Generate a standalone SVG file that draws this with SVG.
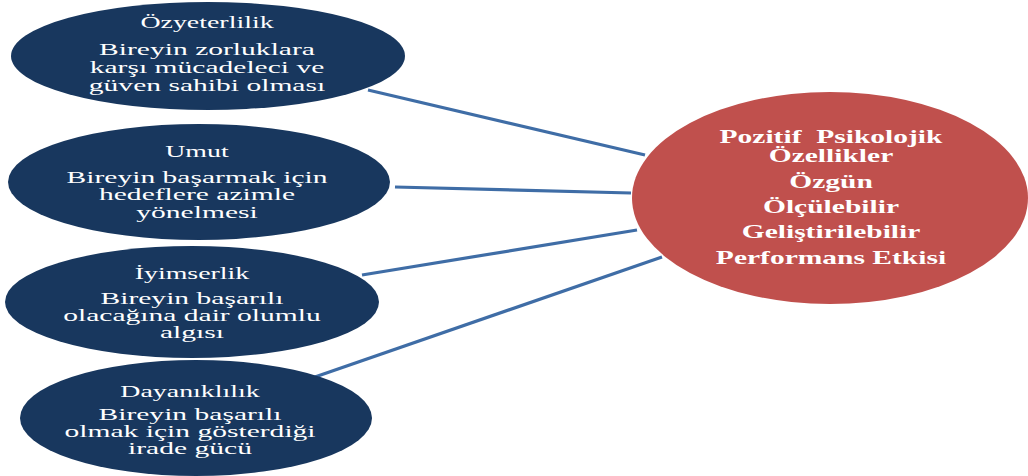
<svg xmlns="http://www.w3.org/2000/svg" width="1028" height="476" viewBox="0 0 1028 476">
  <style>
    .blue { fill: #18375E; }
    .red { fill: #C0504D; }
    .conn { stroke: #3F6DA6; stroke-width: 3.2; fill: none; }
    text { fill: #FFFFFF; font-family: "Liberation Serif", "DejaVu Serif", serif; text-anchor: middle; }
    .t { font-size: 16.5px; }
    .b { font-size: 17.5px; }
    .h { font-size: 18px; font-weight: bold; }
  </style>
  <rect width="1028" height="476" fill="#FFFFFF"/>
  <g id="connectors">
    <line class="conn" x1="368" y1="90" x2="645" y2="155"/>
    <line class="conn" x1="395" y1="187" x2="631" y2="193"/>
    <line class="conn" x1="362" y1="275" x2="637" y2="230"/>
    <line class="conn" x1="312" y1="378" x2="662" y2="257"/>
  </g>
  <g id="node-ozyeterlilik">
    <ellipse class="blue" cx="208" cy="56" rx="197" ry="54"/>
    <g transform="translate(207,0) scale(1.69,1)">
      <text class="t" x="0" y="28">Özyeterlilik</text>
      <text class="b" x="0" y="55">Bireyin zorluklara</text>
      <text class="b" x="0" y="73">karşı mücadeleci ve</text>
      <text class="b" x="0" y="91">güven sahibi olması</text>
    </g>
  </g>
  <g id="node-umut">
    <ellipse class="blue" cx="199" cy="182" rx="191" ry="58"/>
    <g transform="translate(197,0) scale(1.69,1)">
      <text class="t" x="0" y="157">Umut</text>
      <text class="b" x="0" y="183">Bireyin başarmak için</text>
      <text class="b" x="0" y="200.5">hedeflere azimle</text>
      <text class="b" x="0" y="218">yönelmesi</text>
    </g>
  </g>
  <g id="node-iyimserlik">
    <ellipse class="blue" cx="192" cy="302" rx="187" ry="56"/>
    <g transform="translate(192,0) scale(1.69,1)">
      <text class="t" x="0" y="279">İyimserlik</text>
      <text class="b" x="0" y="304.5">Bireyin başarılı</text>
      <text class="b" x="0" y="321.5">olacağına dair olumlu</text>
      <text class="b" x="0" y="338.5">algısı</text>
    </g>
  </g>
  <g id="node-dayaniklilik">
    <ellipse class="blue" cx="196" cy="418" rx="176" ry="58"/>
    <g transform="translate(190,0) scale(1.69,1)">
      <text class="t" x="0" y="397">Dayanıklılık</text>
      <text class="b" x="0" y="420.5">Bireyin başarılı</text>
      <text class="b" x="0" y="437.5">olmak için gösterdiği</text>
      <text class="b" x="0" y="454.5">irade gücü</text>
    </g>
  </g>
  <g id="node-pozitif">
    <ellipse class="red" cx="830" cy="198" rx="198" ry="106"/>
    <g transform="translate(831,0) scale(1.64,1)">
      <text class="h" x="0" y="143" style="white-space:pre" xml:space="preserve">Pozitif  Psikolojik</text>
      <text class="h" x="0" y="162">Özellikler</text>
      <text class="h" x="0" y="188">Özgün</text>
      <text class="h" x="0" y="213">Ölçülebilir</text>
      <text class="h" x="0" y="238">Geliştirilebilir</text>
      <text class="h" x="0" y="264">Performans Etkisi</text>
    </g>
  </g>
</svg>
